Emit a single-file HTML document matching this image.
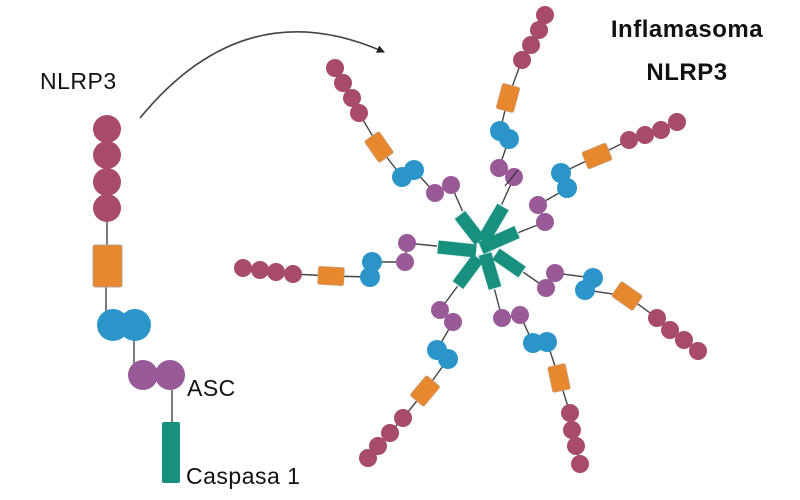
<!DOCTYPE html>
<html><head><meta charset="utf-8"><style>
html,body{margin:0;padding:0;background:#fff;width:800px;height:500px;overflow:hidden}
svg{display:block}
text{font-family:"Liberation Sans","DejaVu Sans",sans-serif;fill:#111}
</style></head><body>
<svg width="800" height="500" viewBox="0 0 800 500" xmlns="http://www.w3.org/2000/svg">
<defs>
<marker id="ah" markerWidth="10" markerHeight="10" refX="7" refY="5" orient="auto" markerUnits="userSpaceOnUse">
<path d="M0,1 L8,5 L0,9 Z" fill="#222"/></marker>
</defs>
<g fill="none" stroke="#444" stroke-width="1.4">
<path d="M140,118 Q245,-10 384,52" stroke-width="1.6" marker-end="url(#ah)"/>
<line x1="107" y1="215" x2="107" y2="250"/>
<line x1="106" y1="285" x2="106" y2="320"/>
<line x1="134" y1="335" x2="134" y2="365"/>
<line x1="172" y1="390" x2="172" y2="424"/>
<polyline points="470,228 451,185 435,193 414,170 402,177 379,147 359,113 335,68"/>
<polyline points="493,224 514,177 499,168 509,139 500,131 508,98 522,60 545,15"/>
<polyline points="500,240 545,222 538,205 566,189 561,173 597,156 629,140 677,122"/>
<polyline points="456,248 407,243 405,262 372,262 370,277 331,276 293,274 243,268"/>
<polyline points="510,263 546,288 555,273 593,278 585,290 627,296 657,318 698,351"/>
<polyline points="490,272 502,318 520,315 533,343 547,342 559,378 570,413 580,464"/>
<polyline points="468,272 440,310 453,322 437,350 448,359 425,391 403,418 368,458"/>
</g>
<g fill="#a84a6a"><circle cx="107" cy="208" r="14"/><circle cx="107" cy="182" r="14"/><circle cx="107" cy="155" r="14"/><circle cx="107" cy="129" r="14"/></g>
<rect x="93" y="245" width="29" height="42" rx="2" fill="#e8882e" stroke="#b8a090" stroke-width="1"/>
<g fill="#2b95c9"><circle cx="113" cy="325" r="16"/><circle cx="135" cy="325" r="16"/></g>
<g fill="#9a5a9a"><circle cx="143" cy="375" r="15"/><circle cx="170" cy="375" r="15"/></g>
<rect x="162" y="422" width="18" height="61" rx="2" fill="#17907f"/>
<g fill="#a84a6a">
<circle cx="335" cy="68" r="9"/><circle cx="343" cy="83" r="9"/><circle cx="352" cy="98" r="9"/><circle cx="359" cy="113" r="9"/>
<circle cx="545" cy="15" r="9"/><circle cx="539" cy="30" r="9"/><circle cx="531" cy="45" r="9"/><circle cx="522" cy="60" r="9"/>
<circle cx="677" cy="122" r="9"/><circle cx="661" cy="130" r="9"/><circle cx="645" cy="135" r="9"/><circle cx="629" cy="140" r="9"/>
<circle cx="243" cy="268" r="9"/><circle cx="260" cy="270" r="9"/><circle cx="276" cy="272" r="9"/><circle cx="293" cy="274" r="9"/>
<circle cx="698" cy="351" r="9"/><circle cx="684" cy="340" r="9"/><circle cx="670" cy="330" r="9"/><circle cx="657" cy="318" r="9"/>
<circle cx="580" cy="464" r="9"/><circle cx="576" cy="446" r="9"/><circle cx="572" cy="430" r="9"/><circle cx="570" cy="413" r="9"/>
<circle cx="368" cy="458" r="9"/><circle cx="378" cy="446" r="9"/><circle cx="390" cy="433" r="9"/><circle cx="403" cy="418" r="9"/>
</g>
<g fill="#e8882e" stroke="#c9a080" stroke-width="0.8">
<rect x="-9" y="-13" width="18" height="26" rx="2" transform="translate(379,147) rotate(-35)"/>
<rect x="-9" y="-13" width="18" height="26" rx="2" transform="translate(508,98) rotate(15)"/>
<rect x="-9" y="-13" width="18" height="26" rx="2" transform="translate(597,156) rotate(68)"/>
<rect x="-9" y="-13" width="18" height="26" rx="2" transform="translate(331,276) rotate(93)"/>
<rect x="-9" y="-13" width="18" height="26" rx="2" transform="translate(627,296) rotate(125)"/>
<rect x="-9" y="-13" width="18" height="26" rx="2" transform="translate(559,378) rotate(168)"/>
<rect x="-9" y="-13" width="18" height="26" rx="2" transform="translate(425,391) rotate(-140)"/>
</g>
<g fill="#2b95c9">
<circle cx="402" cy="177" r="10"/><circle cx="414" cy="170" r="10"/>
<circle cx="500" cy="131" r="10"/><circle cx="509" cy="139" r="10"/>
<circle cx="561" cy="173" r="10"/><circle cx="567" cy="188" r="10"/>
<circle cx="372" cy="262" r="10"/><circle cx="370" cy="277" r="10"/>
<circle cx="593" cy="278" r="10"/><circle cx="585" cy="290" r="10"/>
<circle cx="533" cy="343" r="10"/><circle cx="547" cy="342" r="10"/>
<circle cx="437" cy="350" r="10"/><circle cx="448" cy="359" r="10"/>
</g>
<g fill="#9a5a9a">
<circle cx="435" cy="193" r="9"/><circle cx="451" cy="185" r="9"/>
<circle cx="499" cy="168" r="9"/><circle cx="514" cy="177" r="9"/>
<circle cx="538" cy="205" r="9"/><circle cx="545" cy="222" r="9"/>
<circle cx="407" cy="243" r="9"/><circle cx="405" cy="262" r="9"/>
<circle cx="555" cy="273" r="9"/><circle cx="546" cy="288" r="9"/>
<circle cx="502" cy="318" r="9"/><circle cx="520" cy="315" r="9"/>
<circle cx="440" cy="310" r="9"/><circle cx="453" cy="322" r="9"/>
</g>
<line x1="505" y1="186" x2="518" y2="170" stroke="#333" stroke-width="1.2"/>
<g stroke="#e8f4f2" stroke-width="15" stroke-linecap="butt">
<line x1="459" y1="214" x2="481" y2="242"/><line x1="504" y1="206" x2="482" y2="242"/>
<line x1="518" y1="232" x2="480" y2="248"/><line x1="437" y1="247" x2="477" y2="251"/>
<line x1="523" y1="273" x2="495" y2="253"/><line x1="496" y1="289" x2="484" y2="253"/>
<line x1="457" y1="286" x2="479" y2="257"/>
</g>
<g stroke="#17907f" stroke-width="13" stroke-linecap="butt">
<line x1="460" y1="215" x2="480" y2="241"/><line x1="503" y1="207" x2="483" y2="241"/>
<line x1="517" y1="232" x2="481" y2="248"/><line x1="438" y1="247" x2="476" y2="251"/>
<line x1="522" y1="272" x2="496" y2="254"/><line x1="495" y1="288" x2="485" y2="254"/>
<line x1="458" y1="285" x2="478" y2="258"/>
</g>
<text x="40" y="89" font-size="23" letter-spacing="0.5">NLRP3</text>
<text x="187" y="396" font-size="23" letter-spacing="0.5">ASC</text>
<text x="186" y="484" font-size="23" letter-spacing="0.5">Caspasa 1</text>
<text x="687" y="37" font-size="24" font-weight="bold" text-anchor="middle" letter-spacing="0.5">Inflamasoma</text>
<text x="687" y="80" font-size="24" font-weight="bold" text-anchor="middle" letter-spacing="0.5">NLRP3</text>
</svg>
</body></html>
